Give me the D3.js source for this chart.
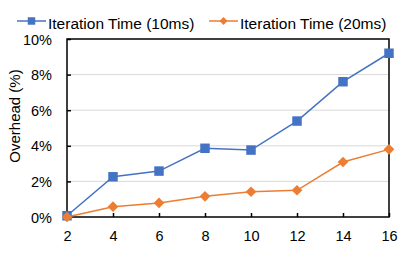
<!DOCTYPE html>
<html>
<head>
<meta charset="utf-8">
<script src="https://cdn.jsdelivr.net/npm/d3@7"></script>
<style>
body{margin:0;background:#fff}
text{font-family:"Liberation Sans",Arial,sans-serif;fill:#000}
</style>
</head>
<body>
<svg width="407" height="255"></svg>
<script>
// data
const threads=[2,4,6,8,10,12,14,16]
const iter10=[0.07,2.26,2.58,3.86,3.76,5.39,7.6,9.2]
const iter20=[0,0.58,0.79,1.16,1.42,1.5,3.09,3.8]
const yTicks=[0,2,4,6,8,10]
const names=["Iteration Time (10ms)","Iteration Time (20ms)"]
const colors=["#4472C4","#ED7D31"]

const svg=d3.select("svg")
const L=67,R=389,T=39,B=217

const x=d3.scaleLinear().domain([2,16]).range([L,R])
const y=d3.scaleLinear().domain([0,10]).range([B,T])

// gridlines
svg.append("g").selectAll("line").data(yTicks.filter(d=>d>0&&d<10)).join("line")
.attr("x1",L).attr("x2",R).attr("y1",d=>y(d)).attr("y2",d=>y(d))
.attr("stroke","#d9d9d9").attr("stroke-width",1)

// y axis
const ya=svg.append("g").attr("transform",`translate(${L},0)`)
.call(d3.axisLeft(y).tickValues(yTicks).tickFormat(d=>d+"%").tickSize(-4).tickPadding(15))
ya.select(".domain").remove()
ya.selectAll("line").attr("stroke","#000").attr("stroke-width",1.5)
ya.selectAll("text").style("font-size","14.5px").attr("font-family",null).attr("dy","0.35em")

// x axis
const xa=svg.append("g").attr("transform",`translate(0,${B})`)
.call(d3.axisBottom(x).tickValues(threads).tickSize(-4).tickPadding(14))
xa.select(".domain").remove()
xa.selectAll("line").attr("stroke","#000").attr("stroke-width",1.5)
xa.selectAll("text").style("font-size","14.5px").attr("font-family",null)

// frame
svg.append("rect").attr("x",L).attr("y",T).attr("width",R-L).attr("height",B-T)
.attr("fill","none").attr("stroke","#000").attr("stroke-width",1.5)

// axis title
svg.append("text").attr("transform",`translate(20,116) rotate(-90)`)
.attr("text-anchor","middle").style("font-size","15px").text("Overhead (%)")

const line=d3.line().x((d,i)=>x(threads[i])).y(d=>y(d))
const series=[iter10,iter20]

series.forEach((s,k)=>{
svg.append("path").attr("d",line(s)).attr("fill","none")
.attr("stroke",colors[k]).attr("stroke-width",1.5)
})

// markers
const sq=d3.symbol().type(d3.symbolSquare).size(90)
const di=d3.symbol().type(d3.symbolDiamond2).size(72)
svg.append("g").selectAll("path").data(iter10).join("path")
.attr("d",sq).attr("fill",colors[0])
.attr("transform",(d,i)=>`translate(${x(threads[i])},${y(d)})`)
svg.append("g").selectAll("path").data(iter20).join("path")
.attr("d",di).attr("fill",colors[1])
.attr("transform",(d,i)=>`translate(${x(threads[i])},${y(d)})`)

// legend
const lsq=d3.symbol().type(d3.symbolSquare).size(56)
const ldi=d3.symbol().type(d3.symbolDiamond2).size(40)
const leg=[{x:17,shape:lsq},{x:209,shape:ldi}]
leg.forEach((l,k)=>{
const g=svg.append("g").attr("transform",`translate(${l.x},21)`)
g.append("line").attr("x1",0).attr("x2",29).attr("stroke",colors[k]).attr("stroke-width",1.5)
g.append("path").attr("d",l.shape).attr("fill",colors[k]).attr("transform","translate(14.5,0)")
g.append("text").attr("x",31).attr("y",7.5).style("font-size","15.5px").text(names[k])
})
</script>
</body>
</html>
